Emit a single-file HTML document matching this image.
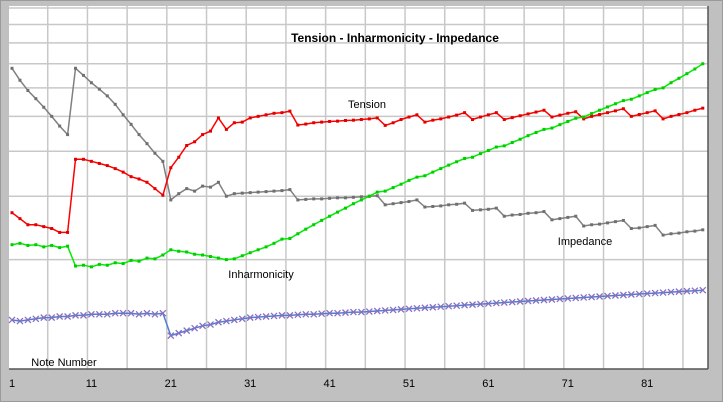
<!DOCTYPE html>
<html><head><meta charset="utf-8"><style>
html,body{margin:0;padding:0;background:#c0c0c0;}
svg{display:block;font-family:"Liberation Sans",Arial,sans-serif;}
</style></head><body>
<svg id="chart" width="723" height="402">
<rect x="0.5" y="0.5" width="722" height="401" fill="#c0c0c0" stroke="#9a9a9a"/>
<rect x="9" y="6" width="699" height="363" fill="#fff"/>
<g id="grid"></g>
<line x1="9" y1="369" x2="708" y2="369" stroke="#555" stroke-width="1.5"/>
<line x1="708" y1="6" x2="708" y2="369" stroke="#555" stroke-width="1.5"/>
<g id="series"></g>
<g id="xticks"></g>
<text x="395" y="42" text-anchor="middle" font-size="12" font-weight="bold">Tension - Inharmonicity - Impedance</text>
<text x="367" y="108" text-anchor="middle" font-size="11">Tension</text>
<text x="261" y="278" text-anchor="middle" font-size="11">Inharmonicity</text>
<text x="585" y="245" text-anchor="middle" font-size="11">Impedance</text>
<text x="64" y="366" text-anchor="middle" font-size="11">Note Number</text>
</svg>
<script>
const xTickLabels=[1,11,21,31,41,51,61,71,81];
const yGridValues=[2,3,4,5,6,7,8,9,10];
const impedance=[6.8,6.3,5.9,5.6,5.3,5.0,4.7,4.45,
6.8,6.5,6.2,5.95,5.7,5.4,5.05,4.75,4.45,4.2,3.95,3.75,
2.93,3.05,3.15,3.1,3.2,3.18,3.28,
3.0,3.05,3.06,3.07,3.08,3.09,3.1,3.11,3.13,
2.93,2.94,2.95,2.95,2.96,2.97,2.97,2.98,2.99,3.0,3.01,
2.84,2.86,2.88,2.9,2.93,
2.8,2.81,2.82,2.84,2.85,2.87,
2.74,2.75,2.76,2.78,
2.64,2.66,2.67,2.69,2.7,2.72,
2.58,2.6,2.62,2.64,
2.48,2.5,2.51,2.53,2.55,2.57,
2.44,2.45,2.47,2.49,
2.34,2.36,2.37,2.39,2.4,2.42];
const tension=[2.7,2.6,2.5,2.5,2.47,2.44,2.38,2.38,
3.8,3.8,3.75,3.7,3.65,3.58,3.5,3.4,3.35,3.28,3.15,3.02,
3.6,3.85,4.15,4.25,4.45,4.55,4.95,
4.6,4.8,4.82,4.95,5.0,5.05,5.1,5.12,5.17,
4.73,4.76,4.8,4.82,4.84,4.85,4.87,4.88,4.9,4.92,4.95,
4.72,4.8,4.9,4.98,5.05,
4.82,4.88,4.92,4.98,5.04,5.12,
4.9,4.98,5.05,5.12,
4.9,4.96,5.02,5.08,5.14,5.2,
4.98,5.04,5.1,5.15,
4.92,5.0,5.06,5.12,5.18,5.25,
5.0,5.06,5.12,5.18,
4.92,5.0,5.06,5.12,5.2,5.27];
const inharmonicity=[2.2,2.22,2.19,2.2,2.17,2.19,2.16,2.18,
1.92,1.93,1.91,1.94,1.93,1.96,1.95,1.99,1.98,2.02,2.01,2.06,
2.13,2.11,2.1,2.07,2.06,2.04,2.02,
2.0,2.01,2.05,2.09,2.13,2.17,2.22,2.28,2.29,
2.36,2.43,2.5,2.57,2.64,2.71,2.78,2.86,2.93,3.0,3.08,
3.1,3.17,3.24,3.32,3.39,
3.42,3.5,3.58,3.66,3.74,3.82,
3.85,3.94,4.02,4.11,
4.14,4.23,4.32,4.42,4.51,4.6,
4.64,4.74,4.84,4.94,
4.98,5.09,5.2,5.31,5.42,5.53,
5.58,5.7,5.82,5.94,
6.0,6.2,6.38,6.57,6.77,7.0];
const fourth=[1.36,1.35,1.36,1.37,1.38,1.38,1.39,1.39,1.4,1.4,1.41,1.41,1.41,1.42,1.42,1.42,1.41,1.42,1.41,1.42,
1.23,1.25,1.27,1.29,1.31,1.32,1.34,1.35,1.36,1.37,1.38,1.385,1.39,1.395,1.4,
1.40,1.405,1.41,1.41,1.415,1.42,1.42,1.425,1.43,1.43,
1.435,1.44,1.445,1.45,1.455,1.46,1.465,1.47,1.475,1.48,
1.485,1.49,1.495,1.5,1.505,1.51,1.515,1.52,1.525,1.53,
1.535,1.54,1.545,1.55,1.555,1.56,1.565,1.57,1.575,1.58,
1.585,1.59,1.595,1.6,1.605,1.61,1.615,1.62,1.625,1.63,1.635,1.64,1.645];

const NS="http://www.w3.org/2000/svg";
function xs(n){return 12+(n-1)*7.94;}
function ys(v){return 368-360*Math.log10(v);}
function mk(t,a,p){const e=document.createElementNS(NS,t);for(const k in a)e.setAttribute(k,a[k]);p.appendChild(e);return e;}
const grid=document.getElementById('grid');
for(const v of yGridValues){
  const l=mk('line',{x1:9,x2:708,y1:ys(v),y2:ys(v),stroke:'#c8c8c8','stroke-width':1.5},grid);
  
  
}
for(let n=5.5;n<88;n+=5){
  const l=mk('line',{x1:xs(n),x2:xs(n),y1:6,y2:369,stroke:'#c8c8c8','stroke-width':1.5},grid);
  
  
}
const xt=document.getElementById('xticks');
for(const t of xTickLabels){
  const e=mk('text',{x:xs(t),y:387,'text-anchor':'middle','font-size':11},xt);
  e.textContent=t;
  
  
}
const sg=document.getElementById('series');
function drawSeries(data,color,name,marker){
  const g=mk('g',{},sg);
  
  
  const pts=data.map((v,i)=>xs(i+1).toFixed(1)+','+ys(v).toFixed(1)).join(' ');
  const pl=mk('polyline',{points:pts,fill:'none',stroke:color,'stroke-width':1.5},g);
  
  
  data.forEach((v,i)=>{
    const x=xs(i+1),y=ys(v);
    if(marker==='x'){
      const p=mk('path',{d:`M${x-3},${y-3}L${x+3},${y+3}M${x-3},${y+3}L${x+3},${y-3}`,stroke:'#8a6fc0','stroke-width':1.3},g);
      
      
    }else{
      const r=mk('rect',{x:x-1.5,y:y-1.5,width:3,height:3,fill:marker},g);
      
      
    }
  });
}
drawSeries(impedance,'#808080','impedance','#707070');
drawSeries(tension,'#ff0000','tension','#e00000');
drawSeries(inharmonicity,'#00ee00','inharmonicity','#00cc00');
drawSeries(fourth,'#4f7fcf','note-curve','x');
</script>
</body></html>
